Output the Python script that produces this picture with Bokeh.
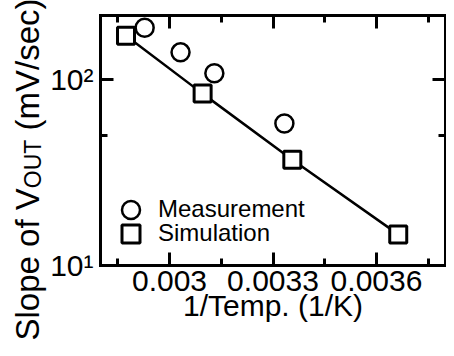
import math
from bokeh.plotting import figure
from bokeh.models import (FixedTicker, LinearAxis, LogAxis, Legend, LegendItem,
                          Label, Range1d)
from bokeh.embed import file_html
from bokeh.resources import INLINE

# ---- data ----
meas_x = [0.002928, 0.003032, 0.003130, 0.003333]
meas_y = [190.0, 140.0, 108.0, 58.0]
sim_x = [0.002874, 0.003096, 0.003356, 0.003663]
sim_y = [172.0, 84.0, 37.0, 14.7]

xticks = [0.003, 0.0033, 0.0036]
xtick_labels = ["0.003", "0.0033", "0.0036"]
xminor = [0.00285, 0.00315, 0.00345, 0.00375]
yticks = [10, 100]
ytick_labels = ["10\u00b9", "10\u00b2"]
yminor = [50]

FONT = "Liberation Sans"
LW = 3
W, H = 446, 348
X0, X1 = 0.0028, 0.0038          # visible box, x
Y0, Y1 = 10, 221                 # visible box, y (log)
BL, BW, BT, BH = 100, 345, 15, 250   # box left/width/top/height in px

# whole canvas is the frame; the box is drawn with axes at fixed locations
xpp = (X1 - X0) / BW
xs, xe = X0 - BL * xpp, X0 + (W - BL) * xpp
dpp = (math.log10(Y1) - math.log10(Y0)) / BH
ys = 10 ** (math.log10(Y0) - (H - BT - BH) * dpp)
ye = 10 ** (math.log10(Y1) + BT * dpp)

p = figure(width=W, height=H, output_backend="svg", toolbar_location=None,
           x_range=Range1d(xs, xe), y_range=Range1d(ys, ye),
           y_axis_type="log", min_border=0)
p.title.visible = False
p.grid.visible = False
p.outline_line_color = None
p.background_fill_color = "white"
p.border_fill_color = "white"

def style_axis(ax):
    ax.axis_line_width = LW
    ax.axis_line_color = "black"
    ax.axis_line_cap = "square"
    ax.major_tick_in = 13
    ax.major_tick_out = 0
    ax.minor_tick_in = 7
    ax.minor_tick_out = 0
    ax.major_tick_line_width = LW
    ax.minor_tick_line_width = LW
    ax.major_tick_line_color = "black"
    ax.minor_tick_line_color = "black"
    ax.major_label_text_font = FONT
    ax.major_label_text_color = "black"

xa = p.xaxis[0]
xa.ticker = FixedTicker(ticks=xticks, minor_ticks=xminor)
xa.major_label_overrides = {t_: l for t_, l in zip(xticks, xtick_labels)}
style_axis(xa)
xa.fixed_location = Y0
xa.bounds = (X0, X1)
xa.major_label_text_font_size = "30px"
xa.major_label_standoff = 5
xa.axis_label = "1/Temp. (1/K)"
xa.axis_label_text_font = FONT
xa.axis_label_text_font_size = "30px"
xa.axis_label_text_font_style = "normal"
xa.axis_label_text_color = "black"
xa.axis_label_standoff = -5

ya = p.yaxis[0]
ya.ticker = FixedTicker(ticks=yticks, minor_ticks=yminor)
ya.major_label_overrides = {t_: l for t_, l in zip(yticks, ytick_labels)}
style_axis(ya)
ya.fixed_location = X0
ya.bounds = (Y0, Y1)
ya.major_label_text_font_size = "30px"
ya.major_label_standoff = 7

# mirrored axes (ticks only)
top = LinearAxis(ticker=FixedTicker(ticks=xticks, minor_ticks=xminor),
                 fixed_location=Y1, bounds=(X0, X1))
style_axis(top)
top.major_label_overrides = {t_: " " for t_ in xticks}
top.major_label_text_font_size = "1px"
top.major_label_standoff = 0
p.add_layout(top, "above")
right = LogAxis(ticker=FixedTicker(ticks=yticks, minor_ticks=yminor),
                fixed_location=X1, bounds=(Y0, Y1))
style_axis(right)
right.major_label_overrides = {t_: " " for t_ in yticks}
right.major_label_text_font_size = "1px"
right.major_label_standoff = 0
p.add_layout(right, "right")

# y-axis title with subscript (rotated labels; frame = whole canvas)
ang = math.pi / 2
for txt, xo, yo, fs in [("Slope of V", 27, 8, "33px"),
                        ("OUT", 32, 160.3, "23px"),
                        ("(mV/sec)", 27, 218.1, "33px")]:
    p.add_layout(Label(x=xo, y=yo, x_units="screen", y_units="screen",
                       text=txt, angle=ang, text_font=FONT, text_font_size=fs,
                       text_align="left", text_baseline="alphabetic",
                       text_color="black"))

circ = p.scatter(meas_x, meas_y, marker="circle", size=18, line_width=2.5,
                 line_color="black", fill_color=None)
p.line(sim_x, sim_y, line_color="black", line_width=2.5)
sq = p.scatter(sim_x, sim_y, marker="square", size=17, line_width=LW,
               line_color="black", fill_color="white")

def one_legend(label, rend, loc):
    return Legend(items=[LegendItem(label=label, renderers=[rend])],
                  location=loc, padding=0, margin=0, spacing=0,
                  glyph_width=45, glyph_height=45, label_standoff=5,
                  label_text_font=FONT, label_text_font_size="24px",
                  label_text_color="black",
                  border_line_color=None, background_fill_alpha=0)

p.add_layout(one_legend("Measurement", circ, (108, 116.5)))
p.add_layout(one_legend("Simulation", sq, (108, 92.5)))

open("out.html", "w").write(file_html(p, INLINE))
